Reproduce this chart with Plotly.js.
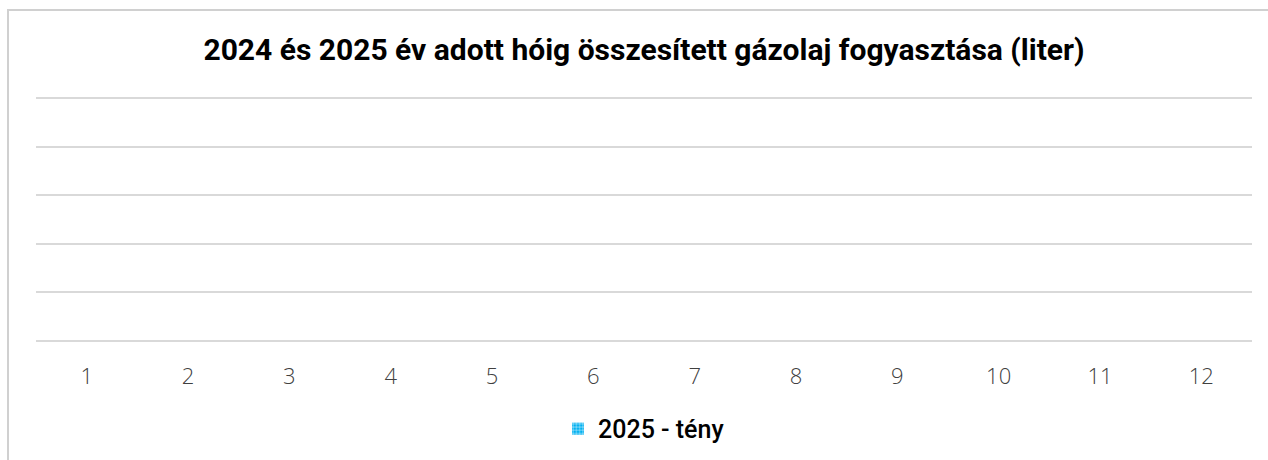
<!DOCTYPE html>
<html>
<head>
<meta charset="utf-8">
<script src="https://cdn.plot.ly/plotly-3.0.1.min.js"></script>
<style>
  html, body { margin: 0; padding: 0; background: #fff; overflow: hidden; }
  #wrap { position: relative; width: 1268px; height: 460px; }
  #chart { width: 1268px; height: 460px; }
  #frame { position: absolute; left: 7px; top: 9px; width: 1280px; height: 480px;
           border-left: 2px solid #d0d0d0; border-top: 2px solid #d0d0d0; pointer-events: none; }
</style>
</head>
<body>
<div id="wrap">
  <div id="chart"></div>
  <div id="frame"></div>
</div>
<script>
const months = ['1','2','3','4','5','6','7','8','9','10','11','12'];
const values2025 = [null, null, null, null, null, null, null, null, null, null, null, null];
const seriesName = '2025 - tény';
const chartTitle = '2024 és 2025 év adott hóig összesített gázolaj fogyasztása (liter)';
const gridLevels = [0, 1, 2, 3, 4, 5];

const trace = {
  type: 'bar',
  x: months,
  y: values2025,
  name: seriesName,
  showlegend: true,
  marker: {
    color: '#00B0F0',
    pattern: { shape: '+', fgcolor: '#ffffff', bgcolor: '#00B0F0', size: 4, solidity: 0.25 }
  }
};

const layout = {
  width: 1268,
  height: 460,
  margin: { l: 36, r: 16, t: 96, b: 119, autoexpand: false },
  paper_bgcolor: '#ffffff',
  plot_bgcolor: '#ffffff',
  title: {
    text: chartTitle,
    font: { family: 'Roboto', size: 30, color: '#000000', weight: 700 },
    xref: 'paper', x: 0.5, xanchor: 'center', y: 0.892, yanchor: 'middle'
  },
  xaxis: {
    type: 'category',
    categoryorder: 'array',
    categoryarray: months,
    tickvals: months,
    ticktext: months,
    showgrid: false,
    zeroline: false,
    showline: false,
    ticks: '',
    automargin: false,
    tickfont: { family: 'Open Sans', size: 22, color: '#404040', weight: 300 },
    ticklabelstandoff: 20
  },
  yaxis: {
    range: [0, 5.05],
    tickvals: gridLevels,
    showticklabels: false,
    showgrid: true,
    gridcolor: '#d9d9d9',
    gridwidth: 2,
    zeroline: true,
    zerolinecolor: '#d9d9d9',
    zerolinewidth: 2,
    showline: false,
    automargin: false,
    fixedrange: true
  },
  showlegend: true,
  legend: {
    orientation: 'h',
    x: 0.5, xanchor: 'center',
    y: -0.265, yanchor: 'top',
    font: { family: 'Roboto', size: 25, color: '#000000', weight: 500 },
    itemwidth: 30
  }
};

Plotly.newPlot('chart', [trace], layout, { displayModeBar: false, staticPlot: true });
</script>
</body>
</html>
